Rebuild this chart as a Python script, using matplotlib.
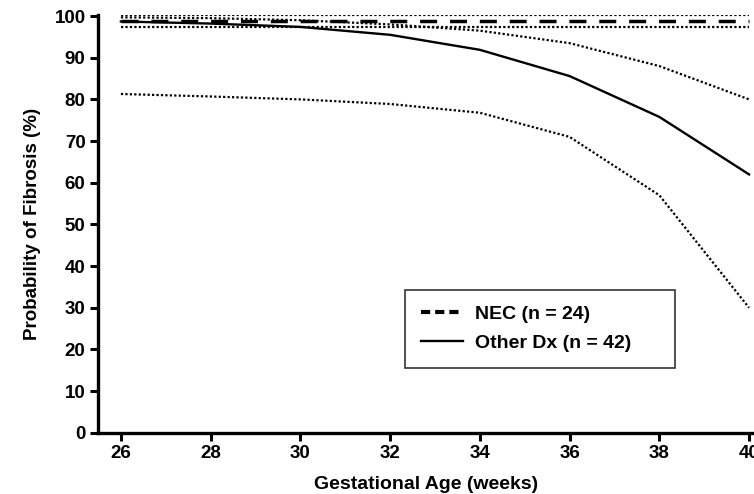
import numpy as np
import matplotlib
matplotlib.use('Agg')
import matplotlib.pyplot as plt

plt.rcParams['font.family'] = ['Liberation Sans', 'DejaVu Sans']
plt.rcParams['font.weight'] = 'bold'

weeks = [26, 28, 30, 32, 34, 36, 38, 40]

nec = [98.8, 98.8, 98.8, 98.8, 98.8, 98.8, 98.8, 98.8]
nec_upper = [100.2, 100.2, 100.2, 100.2, 100.2, 100.2, 100.2, 100.2]
nec_lower = [97.4, 97.4, 97.4, 97.4, 97.4, 97.4, 97.4, 97.4]

other = [98.7, 98.2, 97.4, 95.5, 91.9, 85.6, 75.8, 62.0]
other_upper = [99.7, 99.5, 99.0, 98.0, 96.5, 93.5, 88.0, 80.0]
other_lower = [81.3, 80.7, 80.0, 78.9, 76.8, 71.0, 57.0, 30.0]

fig = plt.figure(figsize=(7.54, 4.94), dpi=100)
ax = fig.add_axes([0.130, 0.124, 0.870, 0.846])

for ci in [nec_upper, nec_lower, other_upper, other_lower]:
    ax.plot(weeks, ci, color='black', linestyle=(0, (1, 1)), linewidth=1.6)
ax.plot(weeks, nec, color='black', linestyle=(0, (4.9, 3.7)), linewidth=2.5,
        label='NEC (n = 24)')
ax.plot(weeks, other, color='black', linestyle='-', linewidth=1.7,
        label='Other Dx (n = 42)')

ax.set_xlim(25.49, 40.11)
ax.set_ylim(0, 100.3)
ax.set_xticks(weeks)
ax.set_yticks(range(0, 101, 10))

for side in ['top', 'right']:
    ax.spines[side].set_visible(False)
for side in ['left', 'bottom']:
    ax.spines[side].set_linewidth(2.4)
ax.tick_params(direction='out', width=2.2, length=6, labelsize=13.5, pad=3)

ax.set_xlabel('Gestational Age (weeks)', fontsize=14, fontweight='bold', labelpad=10)
ax.set_ylabel('Probability of Fibrosis (%)', fontsize=13.5, fontweight='bold', labelpad=10)

# legend box stretched to the reference width
leg = ax.legend(loc='upper left', bbox_to_anchor=(0.468, 0.342, 0.412, 0.0),
                mode='expand', fancybox=False,
                edgecolor='black', fontsize=14, handlelength=2.2, handletextpad=0.6,
                borderpad=0.8, labelspacing=0.6, borderaxespad=0)
leg.get_frame().set_linewidth(1.2)
leg.legend_handles[0].set_linestyle((0, (2.2, 1.2)))
leg.legend_handles[0].set_linewidth(3)

fig.savefig('out.png', dpi=100)
